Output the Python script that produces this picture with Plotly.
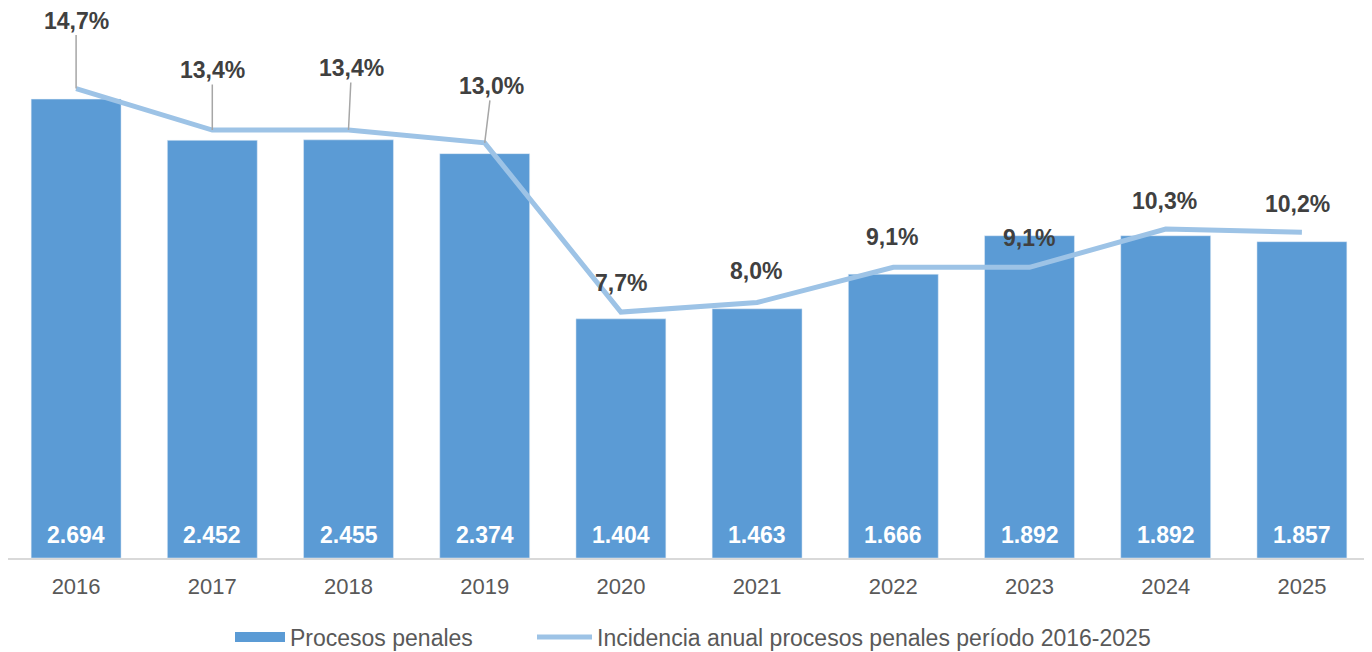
import plotly.graph_objects as go

years = ["2016", "2017", "2018", "2019", "2020", "2021", "2022", "2023", "2024", "2025"]
procesos = [2694, 2452, 2455, 2374, 1404, 1463, 1666, 1892, 1892, 1857]
incidencia = [14.7, 13.4, 13.4, 13.0, 7.7, 8.0, 9.1, 9.1, 10.3, 10.2]
bar_labels = ["2.694", "2.452", "2.455", "2.374", "1.404", "1.463", "1.666", "1.892", "1.892", "1.857"]
pct_labels = ["14,7%", "13,4%", "13,4%", "13,0%", "7,7%", "8,0%", "9,1%", "9,1%", "10,3%", "10,2%"]

BAR = "#5B9BD5"
LINE = "#9DC3E6"
FONT = "Liberation Sans, Arial, sans-serif"
W, H = 1372, 652

fig = go.Figure()
fig.add_trace(go.Bar(
    x=years, y=procesos, name="Procesos penales", showlegend=False,
    marker_color=BAR, width=0.66,
))
# legend proxy for the bars (wide rectangle swatch like the reference)
fig.add_trace(go.Scatter(
    x=[None], y=[None], name="Procesos penales", mode="lines",
    line=dict(color=BAR, width=12), legend="legend",
))
fig.add_trace(go.Scatter(
    x=years, y=incidencia, name="Incidencia anual procesos penales período 2016-2025",
    mode="lines", line=dict(color=LINE, width=5), yaxis="y2", legend="legend2",
))

# bar value labels at the base of each bar
for i, lab in enumerate(bar_labels):
    fig.add_annotation(x=i, y=0, xref="x", yref="y", text=lab, showarrow=False,
                       yanchor="middle", yshift=23,
                       font=dict(color="white", size=23, family=FONT, weight="bold"))

# line value labels (pixel offsets)
leader = {0: (0, -68), 1: (0, -60), 2: (3, -62), 3: (7, -57)}
shifts = {4: (0, 29), 5: (-1, 32), 6: (-1, 30), 7: (-1, 29), 8: (-1, 28), 9: (-4, 28)}
for i, (v, lab) in enumerate(zip(incidencia, pct_labels)):
    font = dict(color="#404040", size=23, family=FONT, weight="bold")
    if i in leader:
        ax, ay = leader[i]
        fig.add_annotation(x=i, y=v, xref="x", yref="y2", text=lab,
                           showarrow=True, arrowhead=0, arrowwidth=1.5,
                           arrowcolor="#A6A6A6", ax=ax, ay=ay, standoff=0, font=font)
    else:
        xs, ys = shifts[i]
        fig.add_annotation(x=i, y=v, xref="x", yref="y2", text=lab,
                           showarrow=False, xshift=xs, yshift=ys, font=font)

fig.update_layout(
    width=W, height=H,
    margin=dict(l=0, r=10, t=39, b=102, autoexpand=False),
    plot_bgcolor="white", paper_bgcolor="white",
    font=dict(family=FONT, color="#595959"),
    xaxis=dict(type="category", range=[-0.5, len(years) - 0.5], showline=True,
               linecolor="#D9D9D9", linewidth=2, ticks="", ticklabelstandoff=8,
               tickangle=0, automargin=False,
               tickfont=dict(size=22, color="#595959"), showgrid=False),
    yaxis=dict(range=[0, 3000], visible=False, showgrid=False),
    yaxis2=dict(range=[0, 16], overlaying="y", visible=False, showgrid=False),
    legend=dict(orientation="h", xref="container", yref="container",
                x=(238 - 8 - 8) / W, y=23 / H,
                xanchor="left", yanchor="middle", itemwidth=50,
                font=dict(size=23, color="#595959"), bgcolor="rgba(0,0,0,0)"),
    legend2=dict(orientation="h", xref="container", yref="container",
                 x=(540 - 8 - 8) / W, y=23 / H,
                 xanchor="left", yanchor="middle", itemwidth=55,
                 font=dict(size=23, color="#595959"), bgcolor="rgba(0,0,0,0)"),
    showlegend=True,
)
fig.write_html("out.html")
